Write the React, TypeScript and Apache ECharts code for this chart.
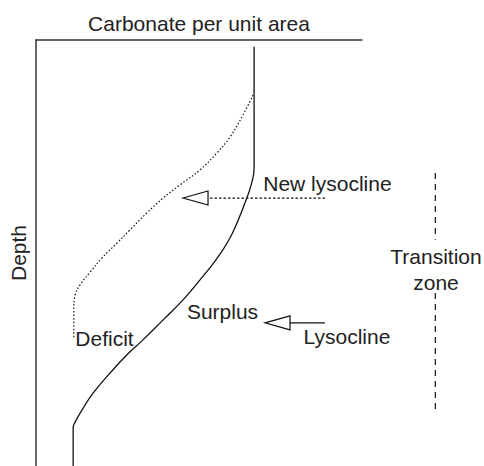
import React, { useEffect, useRef } from "react";
import * as echarts from "echarts";

const FONT = '"Liberation Sans", Arial, Helvetica, sans-serif';

// Carbonate profile (solid) – x: carbonate per unit area, y: depth (arbitrary 0–100 units)
const solidX = [66.9, 66.9, 66.0, 64.4, 62.0, 59.2, 55.2, 50.3, 45.1, 39.0, 32.8, 27.9, 22.7, 17.5, 14.1, 12.0, 11.4, 11.4];
const solidY = [1.6, 30.0, 34.0, 37.6, 42.3, 46.9, 51.6, 56.3, 61.0, 65.7, 70.4, 73.9, 78.2, 82.9, 86.9, 89.7, 91.1, 100];

// New profile (dotted)
const newX = [66.6, 63.5, 59.5, 55.5, 50.3, 44.2, 39.0, 34.0, 28.8, 24.8, 20.2, 16.6, 13.5, 12.0, 11.6, 11.6];
const newY = [12.9, 17.6, 22.8, 26.5, 30.5, 34.0, 37.1, 40.6, 44.6, 47.7, 51.2, 54.5, 57.5, 59.9, 63.4, 70.0];

// Arrows: start x, tip x, depth, dashed
const arrowFrom = [88.65, 88.65];
const arrowTip = [45.1, 70.25];
const arrowDepth = [37.1, 66.4];
const arrowDashed = [1, 0];

// Transition zone marker (two dashed segments): x, top depth, bottom depth
const zoneX = [122.5, 122.5];
const zoneTop = [31.2, 59.4];
const zoneBottom = [46.9, 87.6];

// Annotation labels
const labelTexts = ["New lysocline", "Transition", "zone", "Surplus", "Deficit", "Lysocline"];
const labelX = [89.4, 122.7, 122.7, 57.2, 21.0, 95.4];
const labelY = [33.6, 50.9, 57.0, 63.8, 70.0, 69.5];

export default function App() {
  const ref = useRef<HTMLDivElement>(null);
  useEffect(() => {
    document.body.style.margin = "0";
    const chart = echarts.init(ref.current!, null, { renderer: "svg" });
    const axisLine = { show: true, onZero: false, lineStyle: { color: "#333", width: 1.5 } };
    const nameStyle = { fontSize: 21, color: "#222", fontFamily: FONT };
    chart.setOption({
      animation: false,
      textStyle: { fontFamily: FONT },
      grid: { left: 36, top: 40, width: 326, height: 426 },
      xAxis: {
        type: "value",
        min: 0,
        max: 100,
        position: "top",
        axisLine,
        axisTick: { show: false },
        axisLabel: { show: false },
        splitLine: { show: false },
        name: "Carbonate per unit area",
        nameLocation: "middle",
        nameGap: 6,
        nameTextStyle: nameStyle,
      },
      yAxis: {
        type: "value",
        min: 0,
        max: 100,
        inverse: true,
        axisLine,
        axisTick: { show: false },
        axisLabel: { show: false },
        splitLine: { show: false },
        name: "Depth",
        nameLocation: "middle",
        nameRotate: 90,
        nameGap: 7,
        nameTextStyle: nameStyle,
      },
      series: [
        {
          type: "line",
          data: solidX.map((x, i) => [x, solidY[i]]),
          symbol: "none",
          smooth: 0.5,
          silent: true,
          lineStyle: { color: "#111", width: 1.3 },
        },
        {
          type: "line",
          data: newX.map((x, i) => [x, newY[i]]),
          symbol: "none",
          smooth: 0.4,
          silent: true,
          lineStyle: { color: "#111", width: 1.2, type: [1.5, 2] },
        },
        {
          type: "custom",
          silent: true,
          clip: false,
          data: zoneX.map((x, i) => [x, zoneTop[i], zoneBottom[i]]),
          renderItem: (params: any, api: any) => {
            const a = api.coord([api.value(0), api.value(1)]);
            const b = api.coord([api.value(0), api.value(2)]);
            return {
              type: "line",
              shape: { x1: a[0], y1: a[1], x2: b[0], y2: b[1] },
              style: { stroke: "#222", lineWidth: 1.3, lineDash: [6, 5] },
            };
          },
        },
        {
          type: "custom",
          silent: true,
          data: arrowFrom.map((f, i) => [f, arrowTip[i], arrowDepth[i], arrowDashed[i]]),
          renderItem: (params: any, api: any) => {
            const from = api.coord([api.value(0), api.value(2)]);
            const tip = api.coord([api.value(1), api.value(2)]);
            const dashed = api.value(3) === 1;
            const baseX = tip[0] + 25;
            const y = tip[1];
            return {
              type: "group",
              children: [
                {
                  type: "line",
                  shape: { x1: from[0], y1: y, x2: baseX, y2: y },
                  style: { stroke: "#111", lineWidth: dashed ? 1.2 : 1.3, lineDash: dashed ? [2.5, 2] : null },
                },
                {
                  type: "polygon",
                  shape: { points: [[tip[0], y], [baseX, y - 7], [baseX, y + 7]] },
                  style: { fill: "#fff", stroke: "#111", lineWidth: 1.2 },
                },
              ],
            };
          },
        },
        {
          type: "custom",
          silent: true,
          clip: false,
          data: labelTexts.map((t, i) => [labelX[i], labelY[i], i]),
          renderItem: (params: any, api: any) => {
            const p = api.coord([api.value(0), api.value(1)]);
            return {
              type: "text",
              x: p[0],
              y: p[1],
              style: {
                text: labelTexts[api.value(2)],
                fill: "#222",
                fontSize: 21,
                fontFamily: FONT,
                align: "center",
                verticalAlign: "middle",
              },
            };
          },
        },
      ],
    });
    return () => chart.dispose();
  }, []);
  return <div ref={ref} style={{ width: 484, height: 466 }} />;
}
